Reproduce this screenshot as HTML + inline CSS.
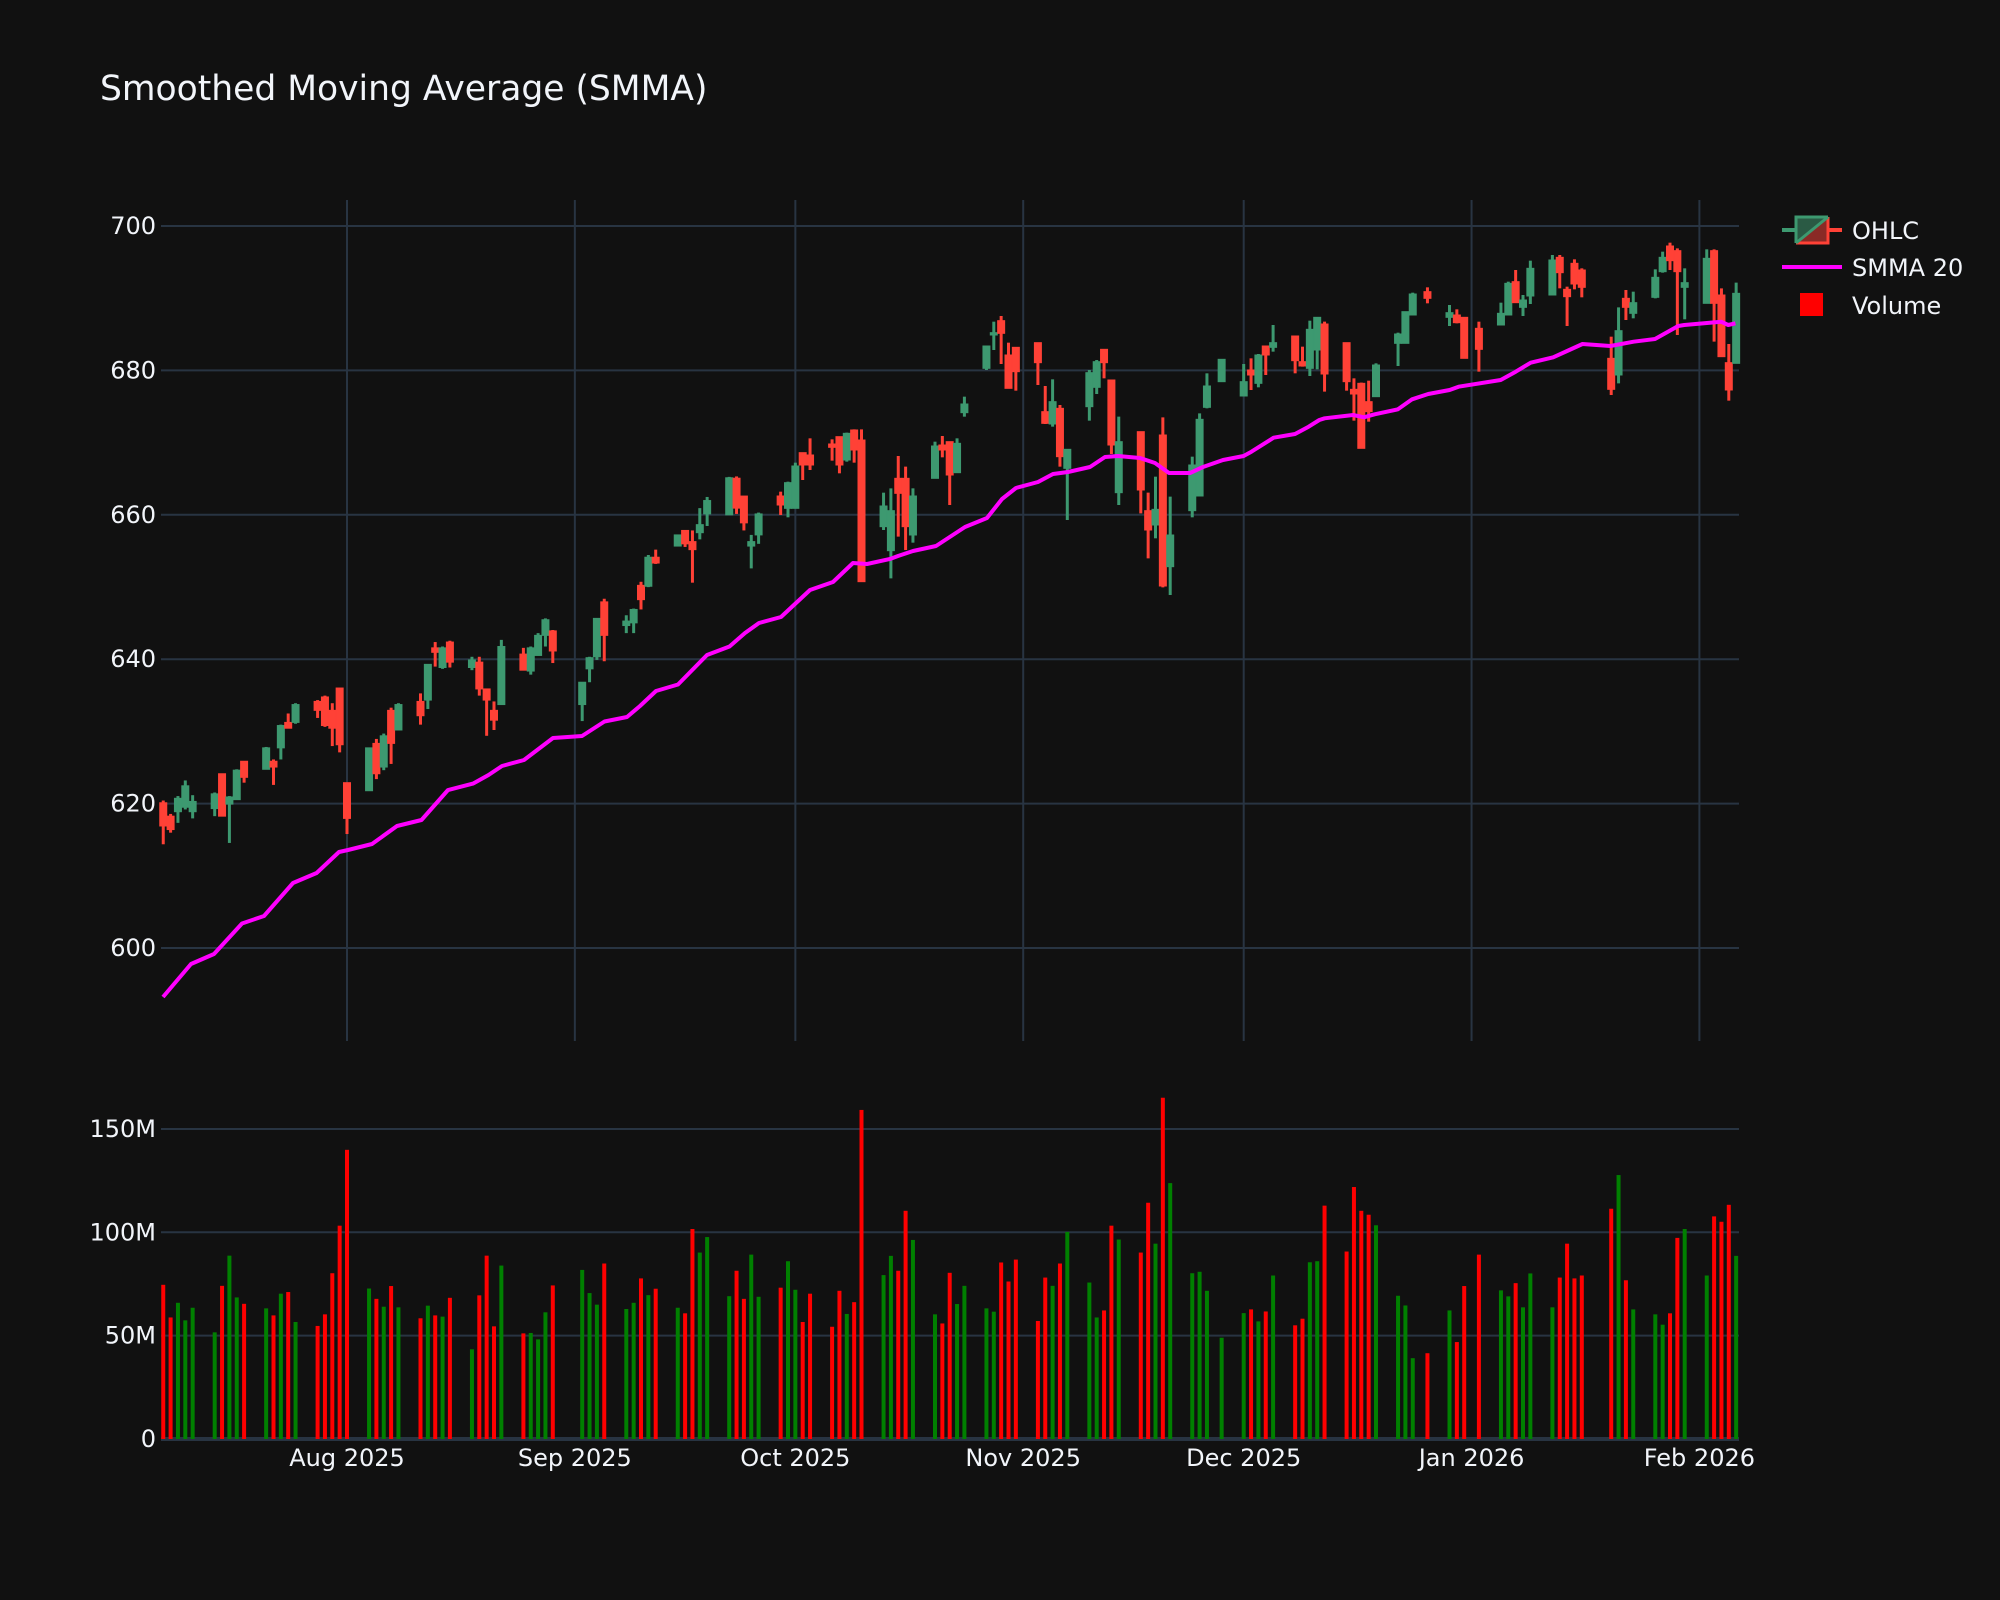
<!DOCTYPE html>
<html><head><meta charset="utf-8">
<style>
html,body{margin:0;padding:0;background:#111111;}
svg{display:block;}
text{font-family:"DejaVu Sans","Liberation Sans",sans-serif;fill:#f2f5fa;}
</style></head>
<body>
<svg id="c" width="2000" height="1600" viewBox="0 0 2000 1600" xmlns="http://www.w3.org/2000/svg">
<rect width="2000" height="1600" fill="#111111"/>
<text x="100" y="100" font-size="34.5">Smoothed Moving Average (SMMA)</text>
<g id="grid"></g>
<g id="vol"></g>
<g id="candles"></g>
<g id="line"></g>
<g id="labels" font-size="24"></g>
<g>
<line x1="1782" y1="230" x2="1842" y2="230" stroke="#3D9970" stroke-width="4"/>
<line x1="1812" y1="230" x2="1842" y2="230" stroke="#FF4136" stroke-width="4"/>
<polygon points="1796,217 1828,217 1796,243" fill="#2a5a44" stroke="none"/>
<polygon points="1828,217 1828,243 1796,243" fill="#8a2a26" stroke="none"/>
<path d="M1796,243 L1796,217 L1828,217" fill="none" stroke="#3D9970" stroke-width="3"/>
<path d="M1828,217 L1828,243 L1796,243" fill="none" stroke="#FF4136" stroke-width="3"/>
<line x1="1796" y1="243" x2="1828" y2="217" stroke="#3D9970" stroke-width="3"/>
<text x="1852" y="239" font-size="24">OHLC</text>
<line x1="1782" y1="267" x2="1842" y2="267" stroke="#ff00ff" stroke-width="4"/>
<text x="1852" y="276" font-size="24">SMMA 20</text>
<rect x="1800" y="293" width="23" height="23" fill="#ff0000"/>
<text x="1852" y="314" font-size="24">Volume</text>
</g>
</svg>
<script>
(function(){
var NS="http://www.w3.org/2000/svg";
function el(p,tag,attrs,txt){var e=document.createElementNS(NS,tag);for(var k in attrs)e.setAttribute(k,attrs[k]);if(txt!==undefined)e.textContent=txt;document.getElementById(p).appendChild(e);return e;}
var L=161,R=1739,PT=200,PB=1041;
function py(v){return 226+(700-v)*7.22;}
function vy(m){return 1439-m*2.067;}
[600,620,640,660,680,700].forEach(function(v){el("grid","line",{x1:L,x2:R,y1:py(v),y2:py(v),stroke:"#283442","stroke-width":2});
 el("labels","text",{x:156,y:py(v)+8,"text-anchor":"end"},String(v));});
var months=[["Aug 2025",0],["Sep 2025",31],["Oct 2025",61],["Nov 2025",92],["Dec 2025",122],["Jan 2026",153],["Feb 2026",184]];
months.forEach(function(m){var x=347+m[1]*7.35;el("grid","line",{x1:x,x2:x,y1:PT,y2:PB,stroke:"#283442","stroke-width":2});
 el("labels","text",{x:x,y:1466,"text-anchor":"middle"},m[0]);});
[[50,"50M"],[100,"100M"],[150,"150M"]].forEach(function(v){el("grid","line",{x1:L,x2:R,y1:vy(v[0]),y2:vy(v[0]),stroke:"#283442","stroke-width":2});
 el("labels","text",{x:156,y:vy(v[0])+8,"text-anchor":"end"},v[1]);});
el("grid","line",{x1:L,x2:R,y1:1439,y2:1439,stroke:"#283442","stroke-width":4});
el("labels","text",{x:156,y:1447,"text-anchor":"end"},"0");
var ex={"2025-09-01":1,"2025-11-27":1,"2025-12-25":1,"2026-01-01":1,"2026-01-19":1};
var base=Date.UTC(2025,7,1),days=[];
for(var t=Date.UTC(2025,6,7);t<=Date.UTC(2026,1,6);t+=86400000){var d=new Date(t),w=d.getUTCDay();if(w==0||w==6)continue;var s=d.toISOString().slice(0,10);if(ex[s])continue;days.push((t-base)/86400000);}
var z1=[[1390,1395,1447,1488,0],[1420,1425,1455,1462,0],[1380,1385,1415,1440,1],[1345,1357,1405,1410,1],[1378,1392,1415,1430,1],
[1372,1375,1408,1425,1],[1330,1330,1425,1425,0],[1380,1382,1398,1485,1],[1320,1322,1388,1388,1],[1302,1302,1338,1350,0],
[1270,1272,1320,1320,1],[1298,1302,1315,1355,0],[1220,1222,1272,1298,1],[1195,1215,1228,1228,0],[1172,1175,1215,1218,1],
[1165,1168,1188,1205,0],[1155,1158,1222,1225,0],[1172,1188,1228,1268,0],[1138,1138,1265,1282,0],[1350,1350,1430,1465,0],
[1272,1272,1368,1368,1],[1252,1262,1330,1342,0],[1240,1245,1315,1322,1],[1182,1188,1262,1308,0],[1172,1175,1232,1232,1],
[1150,1168,1200,1220,0],[1085,1085,1165,1185,1],[1035,1048,1058,1090,0],[1045,1048,1092,1095,1],[1032,1035,1080,1092,0],
[1068,1075,1092,1098,1],[1068,1080,1140,1155,0],[1140,1140,1165,1245,0],[1168,1188,1210,1232,0],[1030,1045,1175,1175,1],
[1048,1062,1098,1098,0],[1045,1048,1100,1108,1],[1015,1020,1065,1065,1],[982,985,1020,1045,1],[1008,1010,1055,1082,0],
[1125,1125,1175,1212,1],[1068,1070,1095,1125,1],[982,982,1068,1075,1],[938,945,1020,1078,0],
[975,988,998,1015,1],[960,962,992,1015,1],[900,908,940,962,0],[840,845,910,912,1],[828,845,858,860,0],
[795,795,820,820,1],[785,785,815,822,0],[785,810,828,902,0],[735,772,790,805,1],[710,718,748,775,1],
[665,667,750,750,1],[664,668,735,748,0],[708,708,768,785,0],[795,810,820,870,1],[745,748,795,815,1]];
var z4=[[575,588,615,645,0],[545,548,625,652,1],[488,498,625,625,1],[458,458,495,540,0],[415,465,495,510,0],
[418,432,442,482,0],[410,410,495,520,0],[398,400,480,485,1],[388,390,450,488,0],[388,420,845,845,0],
[578,618,680,690,1],[565,632,752,835,1],[468,535,580,710,0],[500,535,680,750,0],[565,588,705,728,1],
[425,438,535,535,1],[408,435,450,472,0],[425,425,525,615,0],[415,430,518,518,1],[290,312,338,350,1],
[138,138,205,210,1],[65,98,105,150,1],[48,62,100,192,0],[128,165,265,265,0],[142,142,215,272,0],
[128,128,188,255,0],[258,335,370,372,0],[238,305,372,380,1],[315,325,470,500,0],[448,448,505,660,1],
[210,218,320,362,1],[180,185,262,282,1],[148,148,188,235,0],[240,240,435,462,0],[350,425,578,615,1],
[395,395,570,640,0],[578,632,690,775,0],[530,628,675,715,1],[352,405,858,862,0],[590,705,800,885,1],
[470,495,632,652,1],[340,358,588,588,1],[220,258,322,325,1]];
var z5=[[478,478,545,545,1],
[492,545,588,588,1],[475,510,525,570,0],[462,465,550,562,1],[438,438,465,525,0],[375,428,442,455,1],
[408,408,482,520,0],[440,485,498,500,0],[362,388,505,528,1],[352,352,450,508,1],[365,372,522,575,0],
[428,428,545,572,0],[535,568,582,662,0],[548,550,745,745,0],[542,605,635,665,0],[490,495,590,590,1],
[398,402,430,498,1],[335,335,430,430,1],[278,282,345,345,1],[262,275,295,310,0],
[315,338,352,378,1],[328,345,368,370,0],[352,352,475,475,0],[365,385,448,515,0],
[308,340,375,375,1],[245,250,345,345,1],[210,245,308,308,0],[285,300,322,348,1],[182,205,288,312,1],
[165,180,285,285,1],[165,172,218,265,0],[260,268,290,378,0],[178,190,252,268,0],[205,210,262,292,0],
[410,475,568,585,0],[322,392,525,550,1],[270,295,322,360,0],[275,308,340,355,1],
[208,232,292,295,1],[155,172,215,218,1],[128,138,182,210,0],[145,152,215,405,0],[205,248,262,358,1],
[148,175,310,310,1],[148,152,310,425,0],[265,285,470,470,0],[432,488,570,602,0],[248,280,490,490,1]];
var C=[];
z1.forEach(function(a){C.push([180+a[0]/2.24,180+a[1]/2.24,180+a[2]/2.24,180+a[3]/2.24,a[4]]);});
z4.forEach(function(a){C.push([300+a[0]/3,300+a[1]/3,300+a[2]/3,300+a[3]/3,a[4]]);});
z5.forEach(function(a){C.push([200+a[0]/3,200+a[1]/3,200+a[2]/3,200+a[3]/3,a[4]]);});
var V=[74.6,58.8,65.9,57.4,63.5,51.6,74.1,88.7,68.5,65.4,63.2,59.8,70.3,71.1,56.6,54.7,60.3,80.2,103.2,139.9,
72.8,67.8,64.0,74.0,63.7,58.4,64.5,59.8,59.2,68.3,43.4,69.5,88.7,54.5,83.9,51.1,51.3,48.2,61.3,74.3,
81.8,70.6,65.0,84.9,62.9,65.9,77.7,69.6,72.7,63.5,60.8,101.6,90.2,97.7,69.1,81.4,67.8,89.2,68.8,
73.2,86.0,72.2,56.6,70.3,54.3,71.7,60.5,66.2,159.2,79.3,88.6,81.4,110.4,96.3,60.3,55.9,80.4,65.3,74.1,
63.2,61.6,85.4,76.2,86.8,57.1,78.1,74.1,84.9,100.2,75.7,58.8,62.2,103.2,96.5,90.2,114.3,94.5,165.1,123.8,
80.2,80.9,71.7,49.0,60.9,62.7,56.9,61.7,79.1,55.0,58.2,85.5,86.0,112.9,90.7,121.9,110.4,108.5,103.4,
69.3,64.6,39.1,41.5,62.2,46.9,74.0,89.2,71.9,69.0,75.4,63.7,80.1,63.7,78.1,94.5,77.7,79.1,
111.4,127.7,76.8,62.7,60.3,55.3,60.8,97.3,101.6,79.1,107.7,105.1,113.3,88.6];
var n=Math.min(days.length,C.length,V.length);
for(var i=0;i<n;i++){
 var x=347+days[i]*7.35,c=C[i],up=c[4]==1;
 var col=up?"#3D9970":"#FF4136";
 el("candles","line",{x1:x,x2:x,y1:c[0],y2:c[3],stroke:col,"stroke-width":3});
 var h=Math.max(c[2]-c[1],2);
 el("candles","rect",{x:x-3.5,y:c[1],width:7,height:h,fill:col,stroke:col,"stroke-width":1});
 var vt=vy(V[i]);
 el("vol","rect",{x:x-2,y:vt,width:4,height:1439-vt,fill:up?"#008000":"#ff0000"});
}
var P=[[163,997],[191,964],[214,954],[242,923.5],[264,916],[293,883],[316.6,873],[339,852],[348,850],[372,844],[397,826],[421.5,820],[448,790],[473,783.6],[488.5,775],[502,766],[524,760],[553,738],[582,736],[604.5,721.5],[627,717],[640,706],[656,691],[678,684.5],[707,655],[729.5,646.5],[745,633],[759,623],[781,617],[810,590],[833,582],[853,563],[867,564],[890,559],[898,556],[913,551],[936,546],[965,527],[987,518],[1002,499],[1016,488],[1038,482],[1053,474],[1068,472],[1090,467],[1105,457],[1118,456],[1140,458],[1155,463],[1169,473],[1190,473],[1203,467],[1223,460],[1243.6,456],[1251.4,451.7],[1273.6,437.7],[1295,434],[1308.6,426.7],[1319.3,420],[1324.6,418.3],[1353.2,415],[1363.9,417.3],[1374.6,414.3],[1397.9,409.3],[1412.1,399.3],[1428.2,394],[1449.6,390],[1458.6,386.7],[1500.7,380],[1515.7,371.7],[1530.7,362.7],[1553.2,357.3],[1569.3,350],[1582.5,344],[1610.4,346],[1633.6,341.7],[1655,339],[1678.2,326],[1684.3,325],[1721.1,321.7],[1728.2,325],[1735.4,323.3]];
el("line","polyline",{points:P.map(function(p){return p[0]+","+p[1];}).join(" "),fill:"none",stroke:"#ff00ff","stroke-width":4,"stroke-linejoin":"round"});
})();
</script>
</body></html>
